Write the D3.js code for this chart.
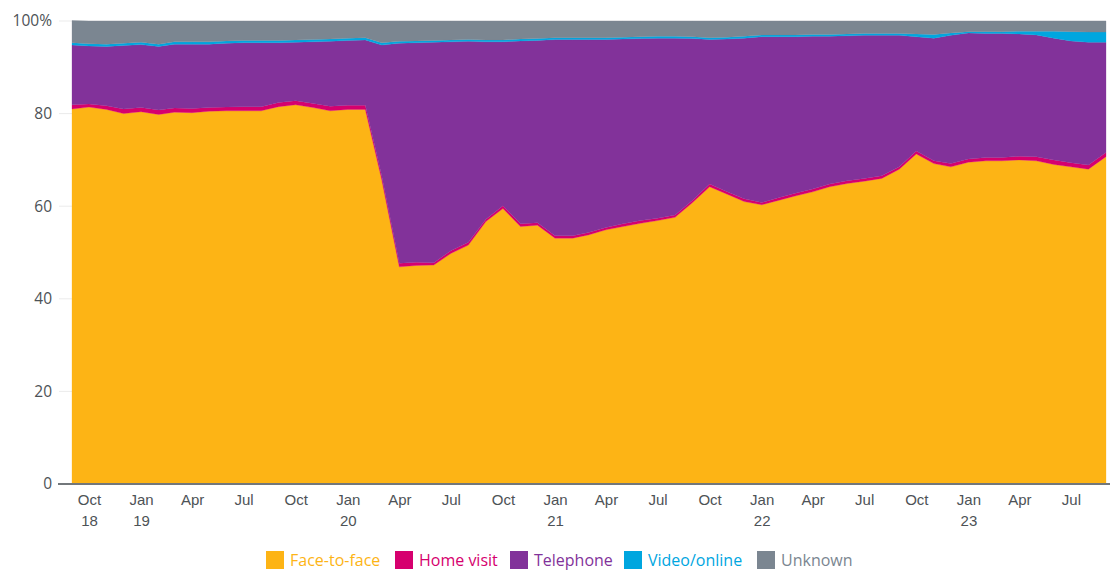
<!DOCTYPE html>
<html>
<head>
<meta charset="utf-8">
<script src="https://cdn.jsdelivr.net/npm/d3@7"></script>
<style>
  html, body { margin: 0; padding: 0; background: #fff; }
  svg { display: block; font-family: "Open Sans", "Noto Sans", sans-serif; }
</style>
</head>
<body>
<svg id="chart" width="1110" height="570"></svg>
<script>
// Months: Sep 2018 .. Sep 2023 (61 monthly points)
const startMonth = [2018, 8];   // year, zero-based month (Sep)
const monthCount = 61;

const seriesNames = ["Face-to-face", "Home visit", "Telephone", "Video/online", "Unknown"];
const seriesColors = ["#fdb415", "#d6006e", "#82329a", "#00a6df", "#7b8691"];

const faceToFace = [81.0,81.4,80.9,80.0,80.4,79.8,80.3,80.2,80.5,80.6,80.6,80.6,81.5,81.9,81.3,80.6,80.9,80.9,
  65.7,46.9,47.2,47.3,49.8,51.6,56.7,59.5,55.6,55.9,53.1,53.1,53.8,54.9,55.6,56.3,56.9,57.6,60.8,64.2,62.6,61.0,
  60.3,61.3,62.2,63.1,64.2,64.9,65.4,66.0,68.0,71.3,69.2,68.5,69.5,69.8,69.8,70.0,69.8,69.0,68.5,68.0,70.7];
const homeVisit = [0.9,0.7,0.8,1.0,0.9,1.0,0.9,0.9,0.8,0.8,0.9,0.9,0.9,0.9,0.9,1.0,0.9,0.9,
  0.8,0.8,0.7,0.5,0.6,0.6,0.5,0.6,0.6,0.5,0.5,0.5,0.5,0.5,0.6,0.6,0.5,0.5,0.5,0.6,0.5,0.6,
  0.5,0.6,0.6,0.6,0.6,0.6,0.6,0.6,0.5,0.6,0.6,0.7,0.7,0.7,0.7,0.8,0.9,1.0,0.9,0.9,0.9];
const telephone = [12.9,12.5,12.8,13.7,13.6,13.7,13.8,13.9,13.7,13.8,13.8,13.8,12.9,12.6,13.3,14.0,14.0,14.1,
  28.3,47.5,47.4,47.6,45.1,43.4,38.3,35.4,39.5,39.4,42.4,42.4,41.7,40.6,39.9,39.3,38.9,38.2,34.9,31.2,33.0,34.7,
  35.8,34.7,33.8,33.0,31.9,31.3,30.9,30.3,28.4,24.7,26.5,27.7,27.2,26.8,26.8,26.4,26.3,26.3,26.3,26.5,23.8];
const videoOnline = [0.5,0.5,0.5,0.5,0.5,0.5,0.5,0.5,0.5,0.5,0.5,0.5,0.5,0.5,0.5,0.5,0.5,0.5,
  0.5,0.4,0.4,0.4,0.4,0.4,0.4,0.4,0.4,0.4,0.4,0.4,0.4,0.4,0.4,0.4,0.4,0.4,0.4,0.4,0.4,0.4,
  0.4,0.4,0.4,0.4,0.4,0.4,0.4,0.4,0.4,0.6,0.8,0.5,0.3,0.4,0.4,0.6,0.8,1.5,2.0,2.2,2.2];
const unknown = [4.8,4.9,5.0,4.8,4.6,5.0,4.5,4.5,4.5,4.3,4.2,4.2,4.2,4.1,4.0,3.9,3.7,3.6,
  4.7,4.4,4.3,4.2,4.1,4.0,4.1,4.1,3.9,3.8,3.6,3.6,3.6,3.6,3.5,3.4,3.3,3.3,3.4,3.6,3.5,3.3,
  3.0,3.0,3.0,2.9,2.9,2.8,2.7,2.7,2.7,2.8,2.9,2.6,2.3,2.3,2.3,2.2,2.2,2.2,2.3,2.4,2.4];

const yTicks = [0, 20, 40, 60, 80, 100];
const xTickMonths = ["Oct","Jan","Apr","Jul"];

// ----- build table -----
const seriesArrays = [faceToFace, homeVisit, telephone, videoOnline, unknown];
const rows = d3.range(monthCount).map(i => {
  const r = { date: new Date(startMonth[0], startMonth[1] + i, 1) };
  seriesNames.forEach((n, k) => r[n] = seriesArrays[k][i]);
  return r;
});

const svg = d3.select("#chart");
const margin = { left: 72, right: 1106, top: 21, bottom: 484 };

const x = d3.scaleTime()
  .domain([rows[0].date, rows[rows.length - 1].date])
  .range([margin.left, margin.right]);
const y = d3.scaleLinear().domain([0, 100]).range([margin.bottom, margin.top]);

// gridlines
svg.append("g").selectAll("line").data(yTicks.filter(d => d > 0)).join("line")
  .attr("x1", 59).attr("x2", margin.right)
  .attr("y1", d => y(d)).attr("y2", d => y(d))
  .attr("stroke", "#ebebeb").attr("stroke-width", 1);

// stacked areas
const stack = d3.stack().keys(seriesNames);
const stacked = stack(rows);
const area = d3.area()
  .x(d => x(d.data.date))
  .y0(d => y(d[0]))
  .y1(d => y(d[1]));

svg.append("g").selectAll("path").data(stacked).join("path")
  .attr("d", area)
  .attr("fill", (d, i) => seriesColors[i])
  .attr("stroke", (d, i) => seriesColors[i])
  .attr("stroke-width", 0.3);

// y labels
svg.append("g").selectAll("text").data(yTicks).join("text")
  .attr("x", 52).attr("y", d => y(d)).attr("dy", "0.35em")
  .attr("text-anchor", "end")
  .attr("font-size", 15.5).attr("fill", "#4d5256")
  .text(d => d === 100 ? "100%" : d);

// baseline axis
svg.append("line")
  .attr("x1", 58).attr("x2", 1110)
  .attr("y1", y(0)).attr("y2", y(0))
  .attr("stroke", "#72777b").attr("stroke-width", 2);

// x axis labels
const tickDates = rows.map(r => r.date).filter(d => [9, 0, 3, 6].includes(d.getMonth()));
const monthFmt = d3.timeFormat("%b");
const yearFmt = d3.timeFormat("%y");
const xAxis = d3.axisBottom(x).tickValues(tickDates).tickSize(0).tickFormat("");
const gx = svg.append("g").attr("transform", `translate(0,${y(0)})`).call(xAxis);
gx.select(".domain").remove();
gx.selectAll(".tick").each(function(d, i) {
  const t = d3.select(this);
  t.selectAll("text").remove();
  const txt = t.append("text")
    .attr("fill", "#4d5256").attr("font-size", 15)
    .attr("text-anchor", "middle");
  txt.append("tspan").attr("x", 0).attr("y", 21).text(monthFmt(d));
  if (d.getMonth() === 0 || i === 0) {
    txt.append("tspan").attr("x", 0).attr("y", 42).text(yearFmt(d));
  }
});

// legend
const legendX = [266, 395, 510, 624, 757];
const lg = svg.append("g").selectAll("g").data(seriesNames).join("g")
  .attr("transform", (d, i) => `translate(${legendX[i]},551)`);
lg.append("rect").attr("width", 18).attr("height", 18)
  .attr("fill", (d, i) => seriesColors[i]);
lg.append("text").attr("x", 24).attr("y", 15)
  .attr("font-size", 16)
  .attr("fill", (d, i) => seriesColors[i])
  .text(d => d);
</script>
</body>
</html>
